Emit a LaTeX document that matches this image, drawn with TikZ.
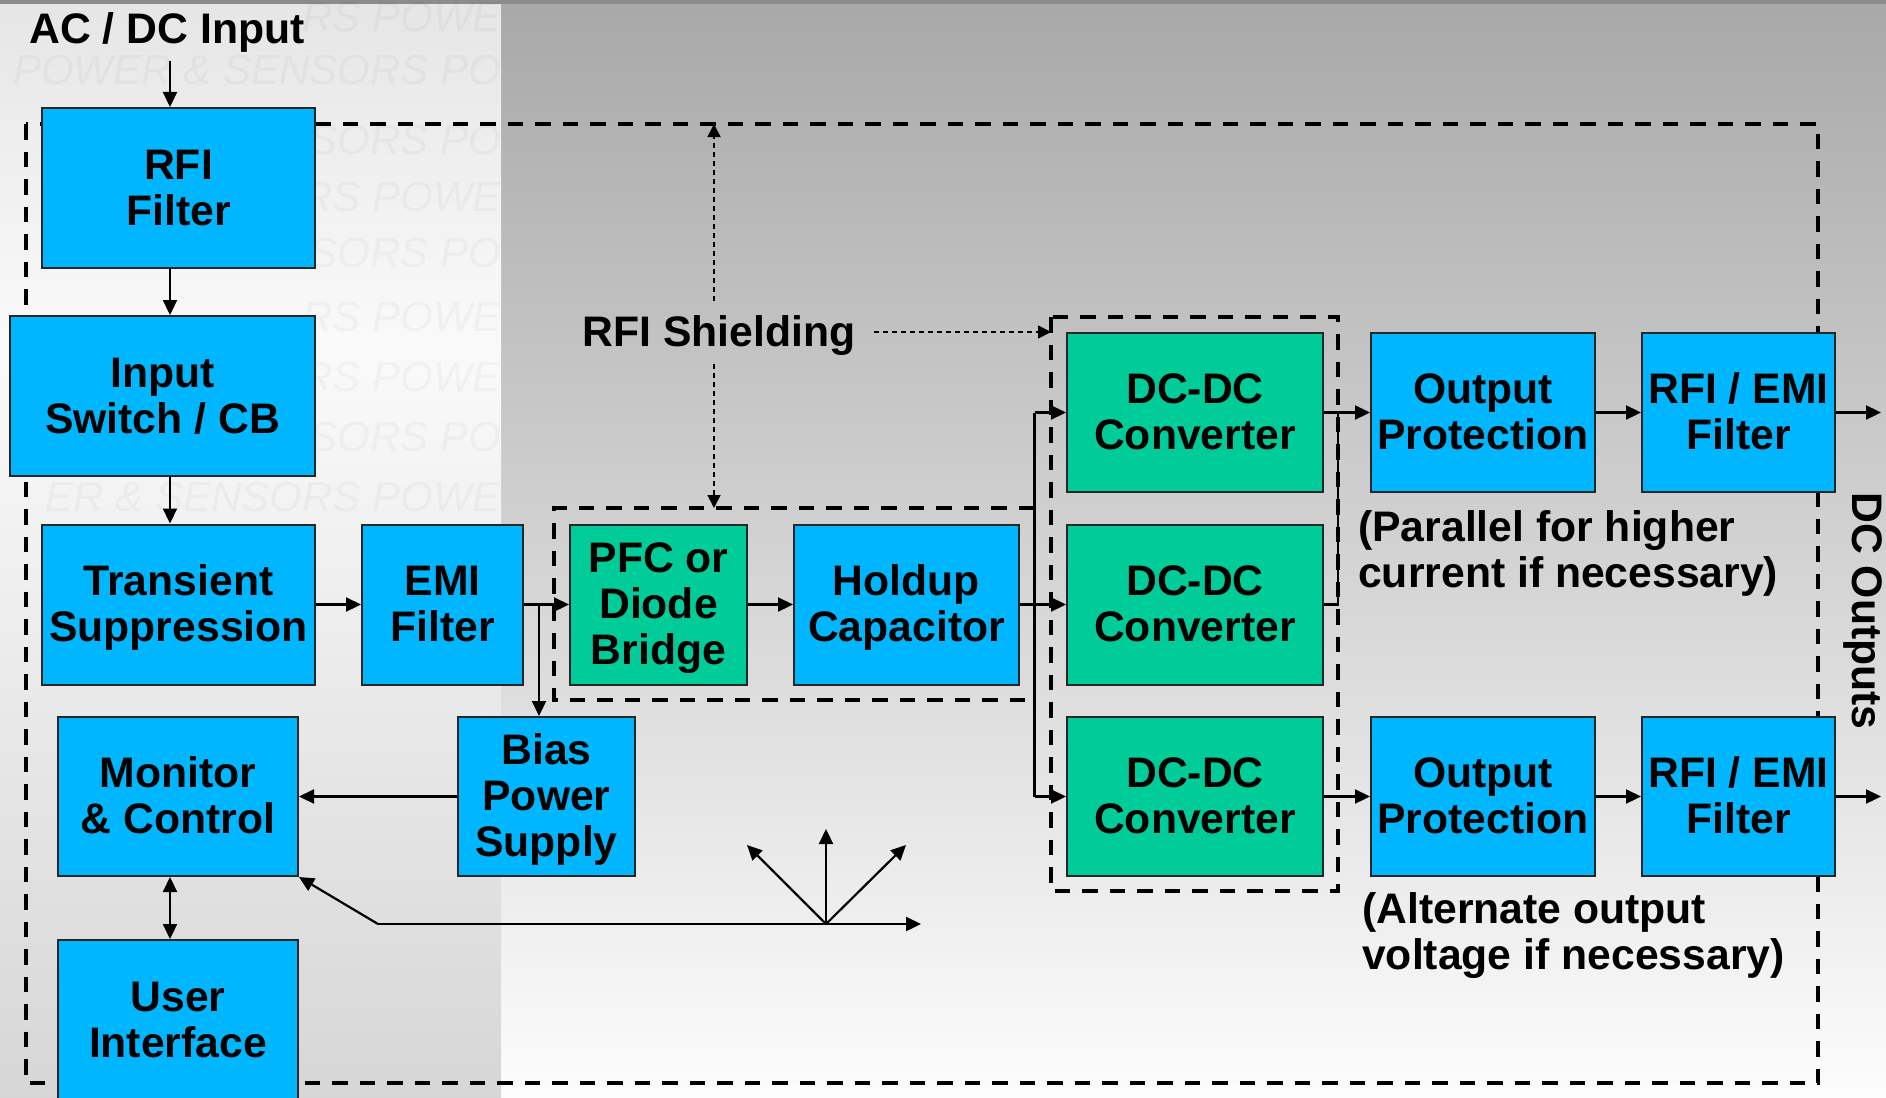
\documentclass[tikz,border=0pt]{standalone}
\usepackage{fontspec}
\setmainfont{Liberation Sans}
\usetikzlibrary{arrows.meta}
\definecolor{bluefill}{HTML}{00B6FF}
\definecolor{greenfill}{HTML}{00CC99}
\tikzset{
  blk/.style={draw=black!85,line width=2pt,inner sep=0pt,align=center,font=\bfseries\fontsize{42.7}{46}\selectfont,
    execute at begin node={\rule{0pt}{83pt}},execute at end node={\rule[-9pt]{0pt}{9pt}}},
  tallblk/.style={execute at begin node={\rule{0pt}{129pt}}},
  bluebox/.style={blk,fill=bluefill},
  greenbox/.style={blk,fill=greenfill},
  label/.style={inner sep=0pt,align=left,font=\bfseries\fontsize{42.7}{46}\selectfont},
  conn/.style={line width=2.2pt,-{Triangle[length=15pt,width=14pt]}},
  both/.style={line width=2.2pt,{Triangle[length=15pt,width=14pt]}-{Triangle[length=15pt,width=14pt]}},
  plain/.style={line width=2.2pt},
  thin dash/.style={line width=1.8pt,dash pattern=on 5pt off 4pt,-{Triangle[length=13pt,width=13pt]}},
  shield/.style={line width=3.5pt,dash pattern=on 15.5pt off 12pt,draw=black},
  wmark/.style={inner sep=0pt,anchor=east,opacity=.03,font=\itshape\fontsize{42}{42}\selectfont},
}
\begin{document}
\begin{tikzpicture}[x=1pt,y=-1pt]
\clip (0,0) rectangle (1886,1097);
% background
\shade[top color=white!66!black,bottom color=white!99!black] (501,0) rectangle (1886,1097);
\shade[top color=white!90!black,bottom color=white!98!black] (0,0) rectangle (501,350);
\shade[top color=white!98!black,bottom color=white!84!black] (0,350) rectangle (501,1097);
\fill[black!45] (0,0) rectangle (1886,4);
% watermark: the fragments that show between the blocks
\node[wmark] (wma) at (501,17) {RS POWE};
\node[wmark] (wmb) at (501,70) {POWER \& SENSORS PO};
\node[wmark] (wmc) at (501,140) {SORS PO};
\node[wmark] (wmd) at (501,197) {RS POWE};
\node[wmark] (wme) at (501,253) {SORS PO};
\node[wmark] (wmf) at (501,317) {RS POWE};
\node[wmark] (wmg) at (501,377) {RS POWE};
\node[wmark] (wmh) at (501,437) {SORS PO};
\node[wmark] (wmi) at (501,497) {ER \& SENSORS POWE};
\begin{scope}[shift={(0,1)}]
% shielding outlines
\coordinate (outerNW) at (26,123);
\coordinate (outerSE) at (1818,1082);
\draw[shield] (outerNW) rectangle (outerSE);
\draw[shield] (1034,507) -- (554,507) -- (554,699) -- (1034,699);
\draw[shield] (1051,316) rectangle (1338,890);
% blocks
\node[bluebox,minimum width=273pt,minimum height=160pt] (rfi) at (178.5,187) {RFI\\Filter};
\node[bluebox,minimum width=305pt,minimum height=160pt] (input) at (162.5,395) {Input\\Switch / CB};
\node[bluebox,minimum width=273pt,minimum height=160pt] (trans) at (178.5,603.5) {Transient\\Suppression};
\node[bluebox,minimum width=161pt,minimum height=160pt] (emi) at (442.5,603.5) {EMI\\Filter};
\node[greenbox,tallblk,minimum width=177pt,minimum height=160pt] (pfc) at (658.5,603.5) {PFC or\\Diode\\Bridge};
\node[bluebox,minimum width=225pt,minimum height=160pt] (hold) at (906.5,603.5) {Holdup\\Capacitor};
\node[greenbox,minimum width=256pt,minimum height=159pt] (dc1) at (1195,411.5) {DC-DC\\Converter};
\node[greenbox,minimum width=256pt,minimum height=160pt] (dc2) at (1195,603.5) {DC-DC\\Converter};
\node[greenbox,minimum width=256pt,minimum height=159pt] (dc3) at (1195,795.5) {DC-DC\\Converter};
\node[bluebox,minimum width=224pt,minimum height=159pt] (out1) at (1483,411.5) {Output\\Protection};
\node[bluebox,minimum width=224pt,minimum height=159pt] (out2) at (1483,795.5) {Output\\Protection};
\node[bluebox,minimum width=193pt,minimum height=159pt] (emi1) at (1738.5,411.5) {RFI / EMI\\Filter};
\node[bluebox,minimum width=193pt,minimum height=159pt] (emi2) at (1738.5,795.5) {RFI / EMI\\Filter};
\node[bluebox,minimum width=240pt,minimum height=159pt] (mon) at (178,795.5) {Monitor\\\& Control};
\node[bluebox,tallblk,minimum width=177pt,minimum height=159pt] (bias) at (546.5,795.5) {Bias\\Power\\Supply};
\node[bluebox,minimum width=240pt,minimum height=160pt] (user) at (178,1019) {User\\Interface};
% labels
\node[label] (acdc) at (167,31) {AC / DC Input};
\node[label] (rfis) at (719,335) {RFI Shielding};
\node[label,anchor=west] (par) at (1358,552) {(Parallel for higher\\current if necessary)};
\node[label,anchor=west] (alt) at (1362,935) {(Alternate output\\voltage if necessary)};
\node[label,rotate=-90] (dcout) at (1863,610) {DC Outputs};
% coordinates
\coordinate (acin) at (170,60);
\coordinate (busl) at (378,923);
\coordinate (busr) at (921,923);
\coordinate (fan) at (826,923);
\coordinate (fanu) at (826,828);
\coordinate (fanl) at (747,844);
\coordinate (fanr) at (906,844);
\coordinate (tap) at (539,603.5);
\coordinate (vbus) at (1034.5,603.5);
\coordinate (coll) at (1338,603.5);
\coordinate (out1e) at (1881,411.5);
\coordinate (out2e) at (1881,795.5);
\coordinate (shx) at (714,300);
\coordinate (shb) at (714,363);
\coordinate (shr) at (874,331);
% connectors
\draw[conn] (acin) -- (rfi.north -| acin);
\draw[conn] (rfi.south -| acin) -- (input.north -| acin);
\draw[conn] (input.south -| acin) -- (trans.north -| acin);
\draw[conn] (trans.east) -- (emi.west);
\draw[conn] (emi.east) -- (pfc.west);
\draw[conn] (tap) -- (bias.north -| tap);
\draw[conn] (pfc.east) -- (hold.west);
\draw[conn] (hold.east) -- (dc2.west);
\draw[plain] (dc1.west -| vbus) -- (dc3.west -| vbus);
\draw[conn] (dc1.west -| vbus) -- (dc1.west);
\draw[conn] (dc3.west -| vbus) -- (dc3.west);
\draw[plain] (dc2.east) -- (coll) -- (dc1.east -| coll);
\draw[conn] (dc1.east) -- (out1.west);
\draw[conn] (dc3.east) -- (out2.west);
\draw[conn] (out1.east) -- (emi1.west);
\draw[conn] (out2.east) -- (emi2.west);
\draw[conn] (emi1.east) -- (out1e);
\draw[conn] (emi2.east) -- (out2e);
\draw[conn] (bias.west) -- (mon.east);
\draw[both] (mon.south -| acin) -- (user.north -| acin);
\draw[conn] (busl) -- (mon.south east);
\draw[conn] (busl) -- (busr);
\draw[conn] (fan) -- (fanu);
\draw[conn] (fan) -- (fanl);
\draw[conn] (fan) -- (fanr);
\draw[thin dash] (shx) -- (shx |- outerNW);
\draw[thin dash] (shb) -- (714,507);
\draw[thin dash] (shr) -- (1051,331);
\end{scope}
\end{tikzpicture}
\end{document}
